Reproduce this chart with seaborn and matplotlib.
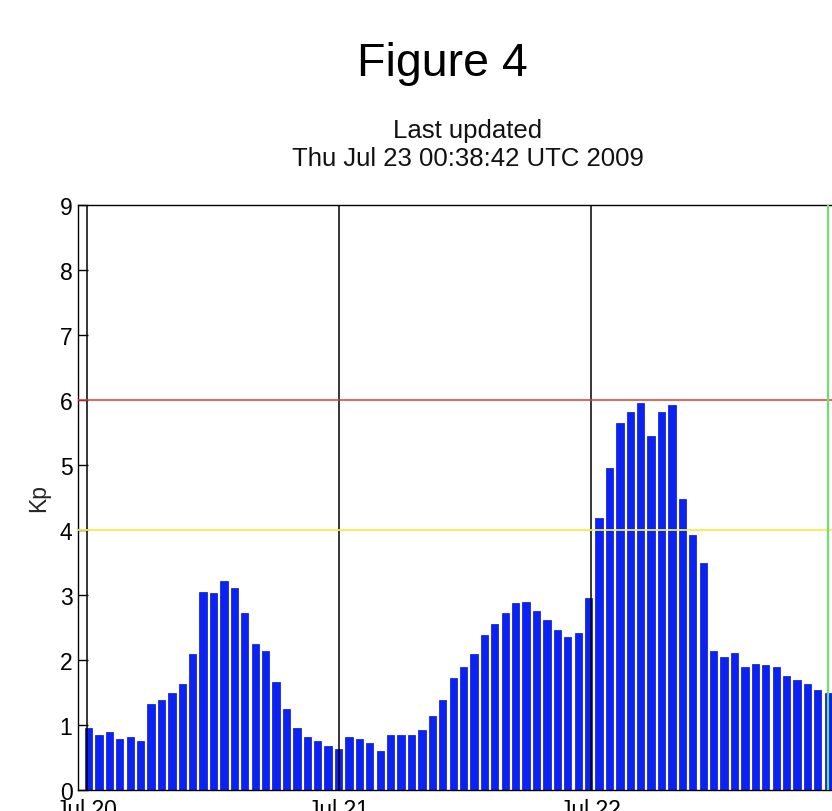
import matplotlib
matplotlib.use("Agg")
import matplotlib.pyplot as plt
import seaborn as sns
import pandas as pd
import numpy as np

# Hourly planetary K-index, 20-22 July 2009
kp_jul20 = [0.95, 0.84, 0.89, 0.79, 0.81, 0.76, 1.33, 1.38, 1.49, 1.63, 2.09, 3.05,
            3.03, 3.22, 3.11, 2.73, 2.25, 2.14, 1.66, 1.25, 0.95, 0.81, 0.76, 0.68]
kp_jul21 = [0.63, 0.81, 0.79, 0.73, 0.60, 0.84, 0.84, 0.84, 0.93, 1.14, 1.38, 1.73,
            1.90, 2.09, 2.38, 2.55, 2.73, 2.87, 2.89, 2.76, 2.62, 2.46, 2.35, 2.41]
kp_jul22 = [2.95, 4.19, 4.95, 5.65, 5.81, 5.95, 5.44, 5.81, 5.92, 4.47, 3.92, 3.49,
            2.14, 2.05, 2.11, 1.89, 1.94, 1.92, 1.89, 1.76, 1.70, 1.63, 1.54, 1.49]

day_labels = ["Jul 20", "Jul 21", "Jul 22"]
day_hours = [0, 24, 48]              # hours since 2009-07-20 00:00 UTC
now_hour = 70.64                     # current-time marker (22:38 UTC on Jul 22)
alert_level = 6                      # storm threshold
warn_level = 4                       # active threshold
y_ticks = list(range(10))

kp = kp_jul20 + kp_jul21 + kp_jul22
sample_step = 0.992                  # sampling interval in hours
first_sample = 0.19
hours = [first_sample + i * sample_step for i in range(len(kp))]
df = pd.DataFrame({"hour": hours, "kp": kp})

sns.set_theme(style="white")
plt.rcParams["font.family"] = ["Liberation Sans", "DejaVu Sans"]

fig = plt.figure(figsize=(8.32, 8.12), dpi=100)
W, H = 832.0, 812.0
ax_left, ax_right, ax_top, ax_bottom = 78.0, 857.0, 206.0, 791.0
ax = fig.add_axes([ax_left / W, 1 - ax_bottom / H,
                   (ax_right - ax_left) / W, (ax_bottom - ax_top) / H])

sns.barplot(data=df, x="hour", y="kp", native_scale=True, width=0.7,
            color="#0a22f4", saturation=1, errorbar=None,
            edgecolor="#0614c8", linewidth=0.5, ax=ax, zorder=2)

# reference lines
for h in day_hours:
    ax.axvline(h, color="black", lw=1.1, zorder=3)
ax.axhline(alert_level, color="#e23a32", lw=1.1, zorder=3)
ax.axhline(warn_level, color="#f2f04a", lw=1.3, zorder=3)
ax.axvline(now_hour, color="#6ee06e", lw=1.6, zorder=3)

ax.set_xlim(-0.81, 73.36)
ax.set_ylim(0, 9)
ax.set_yticks(y_ticks)
ax.set_yticklabels([str(t) for t in y_ticks])
ax.set_xticks(day_hours)
ax.set_xticklabels(day_labels)
ax.tick_params(axis="both", direction="in", length=7, width=1, colors="black",
               labelsize=16.5)
ax.tick_params(axis="y", pad=4, left=True)
ax.tick_params(axis="x", pad=6, bottom=True)
ax.set_xlabel("")
ax.set_ylabel("Kp", fontsize=16.5, va="center")
ax.yaxis.set_label_coords(-0.05, 0.5)

for side in ["left", "top", "bottom", "right"]:
    ax.spines[side].set_visible(True)
    ax.spines[side].set_color("black")
    ax.spines[side].set_linewidth(1.0)
ax.set_facecolor("white")
ax.grid(False)

fig.text(442.5 / W, 1 - 76 / H, "Figure 4", ha="center", va="baseline",
         fontsize=33.5, color="black")
fig.text(467.5 / W, 1 - 138.3 / H, "Last updated", ha="center", va="baseline",
         fontsize=18.5, color="#111111")
fig.text(467.5 / W, 1 - 165.7 / H, "Thu Jul 23 00:38:42 UTC 2009", ha="center",
         va="baseline", fontsize=18.5, color="#111111")

fig.savefig("out.png", dpi=100, facecolor="white")
